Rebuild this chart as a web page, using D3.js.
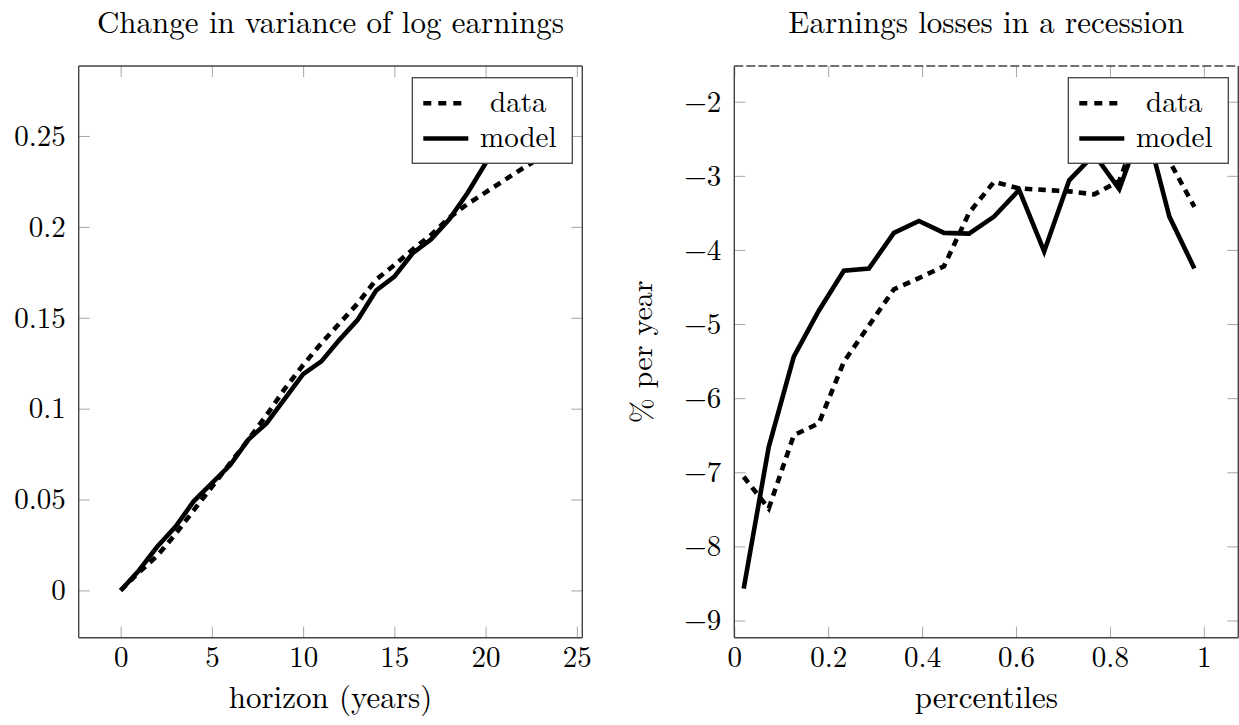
<!DOCTYPE html>
<html>
<head>
<meta charset="utf-8">
<script src="https://cdn.jsdelivr.net/npm/d3@7"></script>
<style>
  html, body { margin: 0; padding: 0; background: #fff; }
  svg { display: block; }
  text { font-family: "Latin Modern Roman", "CMU Serif", "Liberation Serif", serif; fill: #000; }
</style>
</head>
<body>
<svg id="chart" width="1239" height="725"></svg>
<script>
// ---------------- data ----------------
const years = [0, 1, 2, 3, 4, 5, 6, 7, 8, 9, 10, 11, 12, 13, 14, 15, 16, 17, 18, 19, 20, 21, 22, 23];
const varData = [0, 0.010, 0.019, 0.031, 0.044, 0.057, 0.070, 0.083, 0.0965, 0.111, 0.124, 0.136, 0.147, 0.158,
                 0.171, 0.179, 0.1875, 0.1955, 0.205, 0.2125, 0.219, 0.2255, 0.232, 0.238];
const varModel = [0, 0.011, 0.024, 0.035, 0.049, 0.059, 0.069, 0.083, 0.092, 0.1055, 0.119, 0.126, 0.138, 0.149,
                  0.165, 0.1726, 0.1855, 0.193, 0.204, 0.2185, 0.235, 0.250, 0.257, 0.262];

const percentiles = [0.02, 0.0733, 0.1267, 0.18, 0.2333, 0.2867, 0.34, 0.3933, 0.4467, 0.5,
                     0.5533, 0.6067, 0.66, 0.7133, 0.7667, 0.82, 0.8733, 0.9267, 0.98];
const lossData = [-7.06, -7.49, -6.50, -6.34, -5.51, -5.02, -4.53, -4.38, -4.22, -3.50,
                  -3.08, -3.17, -3.19, -3.21, -3.25, -3.07, -2.16, -2.80, -3.42];
const lossModel = [-8.57, -6.66, -5.44, -4.82, -4.28, -4.25, -3.77, -3.61, -3.77, -3.78,
                   -3.55, -3.19, -4.02, -3.06, -2.71, -3.18, -2.25, -3.55, -4.25];

const leftXTicks = [0, 5, 10, 15, 20, 25];
const leftYTicks = [0, 0.05, 0.1, 0.15, 0.2, 0.25];
const rightXTicks = [0, 0.2, 0.4, 0.6, 0.8, 1];
const rightYTicks = [-9, -8, -7, -6, -5, -4, -3, -2];
const seriesNames = ["data", "model"];

const titles = ["Change in variance of log earnings", "Earnings losses in a recession"];
const xLabels = ["horizon (years)", "percentiles"];
const yLabels = [null, "% per year"];

// ---------------- layout ----------------
const svg = d3.select("#chart");
const FS = 29;        // tick labels
const FS_WORD = 31;   // titles / axis labels
const FS_LEG = 29;    // legend entries
const plotTop = 66, plotBottom = 637.7;
const panels = [
  { left: 78.7, right: 582.3, xDom: [-2.3, 25.3], yDom: [-0.026, 0.2885],
    xs: years, d: varData, m: varModel, xt: leftXTicks, yt: leftYTicks,
    xfmt: d => String(d), yfmt: d => String(d), dashedTop: false },
  { left: 734.3, right: 1238.3, xDom: [0, 1.0735], yDom: [-9.232, -1.518],
    xs: percentiles, d: lossData, m: lossModel, xt: rightXTicks, yt: rightYTicks,
    xfmt: d => String(d), yfmt: d => String(d).replace("-", "\u2212"), dashedTop: true }
];

const tickLen = 11;
const tickColor = "#a6a6a6";
const borderColor = "#444";

panels.forEach((p, i) => {
  const x = d3.scaleLinear().domain(p.xDom).range([p.left, p.right]);
  const y = d3.scaleLinear().domain(p.yDom).range([plotBottom, plotTop]);
  const g = svg.append("g");
  const W = p.right - p.left, H = plotBottom - plotTop;

  const clipId = "clip" + i;
  svg.append("clipPath").attr("id", clipId)
    .append("rect").attr("x", p.left).attr("y", plotTop).attr("width", W).attr("height", H);

  const styleAxis = sel => {
    sel.select(".domain").remove();
    sel.selectAll(".tick line").attr("stroke", tickColor).attr("stroke-width", 1);
    sel.selectAll(".tick text").style("font-size", FS + "px").attr("fill", "#000");
    sel.attr("font-family", null).attr("font-size", null);
  };
  g.append("g").attr("transform", `translate(0,${plotBottom})`)
    .call(d3.axisBottom(x).tickValues(p.xt).tickFormat(p.xfmt).tickSize(-tickLen).tickPadding(9))
    .call(styleAxis);
  g.append("g").attr("transform", `translate(0,${plotTop})`)
    .call(d3.axisTop(x).tickValues(p.xt).tickFormat("").tickSize(-tickLen))
    .call(styleAxis);
  g.append("g").attr("transform", `translate(${p.left},0)`)
    .call(d3.axisLeft(y).tickValues(p.yt).tickFormat(p.yfmt).tickSize(-tickLen).tickPadding(13))
    .call(styleAxis);
  g.append("g").attr("transform", `translate(${p.right},0)`)
    .call(d3.axisRight(y).tickValues(p.yt).tickFormat("").tickSize(-tickLen))
    .call(styleAxis);

  // lines
  const line = d3.line().x((d, k) => x(p.xs[k])).y(d => y(d));
  const lg = g.append("g").attr("clip-path", `url(#${clipId})`);
  lg.append("path").datum(p.d).attr("d", line)
    .attr("fill", "none").attr("stroke", "#000").attr("stroke-width", 4.6)
    .attr("stroke-dasharray", "7.5,6").attr("stroke-linejoin", "miter").attr("stroke-miterlimit", 10);
  lg.append("path").datum(p.m).attr("d", line)
    .attr("fill", "none").attr("stroke", "#000").attr("stroke-width", 4.6)
    .attr("stroke-linejoin", "miter").attr("stroke-miterlimit", 10);

  // border
  g.append("line").attr("x1", p.left).attr("x2", p.left).attr("y1", plotTop).attr("y2", plotBottom)
    .attr("stroke", borderColor).attr("stroke-width", 1.4);
  g.append("line").attr("x1", p.right).attr("x2", p.right).attr("y1", plotTop).attr("y2", plotBottom)
    .attr("stroke", borderColor).attr("stroke-width", 1.4);
  g.append("line").attr("x1", p.left).attr("x2", p.right).attr("y1", plotBottom).attr("y2", plotBottom)
    .attr("stroke", borderColor).attr("stroke-width", 1.4);
  g.append("line").attr("x1", p.left).attr("x2", p.right).attr("y1", plotTop).attr("y2", plotTop)
    .attr("stroke", borderColor).attr("stroke-width", 1.4)
    .attr("stroke-dasharray", p.dashedTop ? "9,3" : null);

  // legend
  const lgW = 160, lgH = 85.6;
  const lx = p.right - 10 - lgW, ly = plotTop + 11.7;
  const leg = g.append("g");
  leg.append("rect").attr("x", lx).attr("y", ly).attr("width", lgW).attr("height", lgH)
    .attr("fill", "#fff").attr("stroke", borderColor).attr("stroke-width", 1.3);
  seriesNames.forEach((name, k) => {
    const cy = ly + 25.5 + k * 35.3;
    leg.append("line").attr("x1", lx + 11).attr("x2", lx + (k === 0 ? 52 : 56))
      .attr("y1", cy).attr("y2", cy)
      .attr("stroke", "#000").attr("stroke-width", 4.6)
      .attr("stroke-dasharray", k === 0 ? "8,7" : null);
    leg.append("text").attr("x", lx + 106).attr("y", cy).attr("dy", "0.3em")
      .attr("text-anchor", "middle").style("font-size", FS_LEG + "px").text(name);
  });

  // titles and labels
  const cx = (p.left + p.right) / 2;
  svg.append("text").attr("x", cx).attr("y", 33).attr("text-anchor", "middle")
    .style("font-size", FS_WORD + "px").text(titles[i]);
  svg.append("text").attr("x", cx).attr("y", 708).attr("text-anchor", "middle")
    .style("font-size", FS_WORD + "px").text(xLabels[i]);
  if (yLabels[i]) {
    svg.append("text").attr("transform", `translate(${p.left - 92},${(plotTop + plotBottom) / 2}) rotate(-90)`)
      .attr("text-anchor", "middle").attr("dy", "0.33em")
      .style("font-size", "30px").text(yLabels[i]);
  }
});
</script>
</body>
</html>
